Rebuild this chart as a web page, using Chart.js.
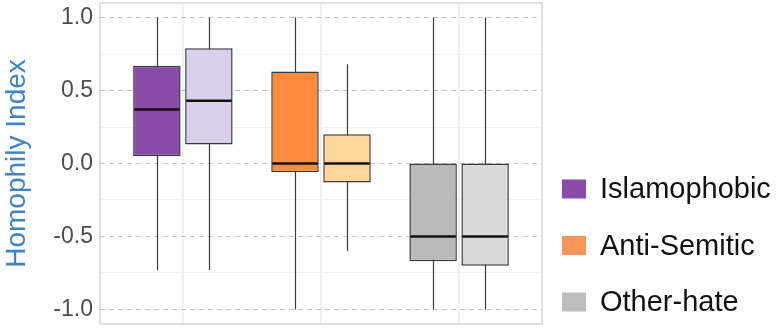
<!DOCTYPE html>
<html>
<head>
<meta charset="utf-8">
<script src="https://cdn.jsdelivr.net/npm/chart.js@4.4.0/dist/chart.umd.min.js"></script>
<style>
  html, body { margin: 0; padding: 0; background: #fff; }
  #wrap { width: 776px; height: 331px; }
</style>
</head>
<body>
<div id="wrap"><canvas id="box"></canvas></div>
<script>
// categories and the two boxes per category (dark = first, light = second)
const categories = ['Islamophobic', 'Anti-Semitic', 'Other-hate'];

const darkLow    = [-0.73, -1.0, -1.0];
const darkQ1     = [0.05, -0.06, -0.67];
const darkMedian = [0.37, 0.0, -0.5];
const darkQ3     = [0.67, 0.63, 0.0];
const darkHigh   = [1.0, 1.0, 1.0];

const lightLow    = [-0.73, -0.6, -1.0];
const lightQ1     = [0.13, -0.13, -0.70];
const lightMedian = [0.43, 0.0, -0.5];
const lightQ3     = [0.79, 0.2, 0.0];
const lightHigh   = [1.0, 0.68, 1.0];

const yTicks = [-1.0, -0.5, 0.0, 0.5, 1.0];
const yMinorTicks = [-0.75, -0.25, 0.25, 0.75];

const darkColors  = ['#8a4aa8', '#fd8d3c', '#bababa'];
const lightColors = ['#dacfec', '#fed59b', '#dadada'];
const legendColors = ['#8a4aa8', '#f5955a', '#bdbdbd'];

const ctx = document.querySelector('#box');

// whiskers behind the boxes, medians on top
const boxPlugin = {
    id: 'boxParts',
    beforeDatasetsDraw(chart) {
        const c = chart.ctx, y = chart.scales.y;
        chart.data.datasets.forEach((ds, di) => {
            const meta = chart.getDatasetMeta(di);
            meta.data.forEach((bar, i) => {
                c.save();
                c.strokeStyle = '#3a3a3a';
                c.lineWidth = 1.2;
                c.beginPath();
                c.moveTo(Math.round(bar.x) + 0.5, y.getPixelForValue(ds.whiskerLow[i]));
                c.lineTo(Math.round(bar.x) + 0.5, y.getPixelForValue(ds.whiskerHigh[i]));
                c.stroke();
                c.restore();
            });
        });
    },
    afterDraw(chart) {
        const c = chart.ctx, y = chart.scales.y;
        chart.data.datasets.forEach((ds, di) => {
            const meta = chart.getDatasetMeta(di);
            meta.data.forEach((bar, i) => {
                const py = y.getPixelForValue(ds.median[i]);
                c.save();
                c.strokeStyle = '#111';
                c.lineWidth = 2.5;
                c.beginPath();
                c.moveTo(bar.x - bar.width / 2 + 1, py);
                c.lineTo(bar.x + bar.width / 2 - 1, py);
                c.stroke();
                c.restore();
            });
        });
        // panel border
        const a = chart.chartArea;
        c.save();
        c.strokeStyle = '#cfcfcf';
        c.lineWidth = 1.3;
        c.strokeRect(a.left, a.top, a.right - a.left, a.bottom - a.top);
        c.restore();

        // legend
        c.save();
        c.font = '29px "Liberation Sans", Arial, sans-serif';
        c.textBaseline = 'middle';
        categories.forEach((name, i) => {
            const cy = 189 + i * 56.5;
            c.fillStyle = legendColors[i];
            c.fillRect(562, cy - 9.5, 24, 19);
            c.fillStyle = '#111';
            c.fillText(name, 600, cy + 1);
        });
        c.restore();
    }
};

new Chart(ctx, {
    type: 'bar',
    data: {
        datasets: [
            {
                label: 'dark',
                data: categories.map((c, i) => ({ x: i + 1, y: [darkQ1[i], darkQ3[i]] })),
                backgroundColor: darkColors,
                whiskerLow: darkLow, whiskerHigh: darkHigh, median: darkMedian
            },
            {
                label: 'light',
                data: categories.map((c, i) => ({ x: i + 1, y: [lightQ1[i], lightQ3[i]] })),
                backgroundColor: lightColors,
                whiskerLow: lightLow, whiskerHigh: lightHigh, median: lightMedian
            }
        ]
    },
    options: {
        animation: false,
        responsive: true,
        maintainAspectRatio: false,
        layout: { padding: { top: 3, bottom: 7, right: 234, left: 0 } },
        datasets: {
            bar: {
                borderColor: '#3a3a3a',
                borderWidth: 1.5,
                borderSkipped: false,
                categoryPercentage: 0.753,
                barPercentage: 0.913
            }
        },
        plugins: {
            legend: { display: false },
            tooltip: { enabled: false }
        },
        scales: {
            x: {
                type: 'linear',
                min: 0.4,
                max: 3.6,
                offset: false,
                afterBuildTicks: s => { s.ticks = categories.map((c, i) => ({ value: i + 1 })); },
                afterFit: s => { s.height = 0; s.paddingLeft = 0; s.paddingRight = 0; },
                ticks: { display: false },
                border: { display: false },
                grid: { color: '#ececec', lineWidth: 1.5, drawTicks: false, offset: false }
            },
            y2: {
                position: 'left',
                min: -1.1,
                max: 1.1,
                afterBuildTicks: s => { s.ticks = yMinorTicks.map(v => ({ value: v })); },
                afterFit: s => { s.width = 0; s.paddingTop = 0; s.paddingBottom = 0; },
                ticks: { display: false },
                border: { display: false },
                grid: { color: '#f2f2f2', lineWidth: 1, drawTicks: false }
            },
            y: {
                position: 'left',
                min: -1.1,
                max: 1.1,
                z: 1,
                afterBuildTicks: s => { s.ticks = yTicks.map(v => ({ value: v })); },
                afterFit: s => { s.width = 100; s.paddingTop = 0; s.paddingBottom = 0; },
                ticks: {
                    padding: 7,
                    color: '#4d4d4d',
                    font: { family: '"Liberation Sans", Arial, sans-serif', size: 23 },
                    callback: v => v.toFixed(1)
                },
                border: { display: false, dash: [5, 4] },
                grid: { color: 'rgba(140,140,140,0.5)', lineWidth: 1, drawTicks: false },
                title: {
                    display: true,
                    text: 'Homophily Index',
                    color: '#3d85c6',
                    font: { family: '"Liberation Sans", Arial, sans-serif', size: 28 },
                    padding: { top: 0, bottom: 0 }
                }
            }
        }
    },
    plugins: [boxPlugin]
});
</script>
</body>
</html>
